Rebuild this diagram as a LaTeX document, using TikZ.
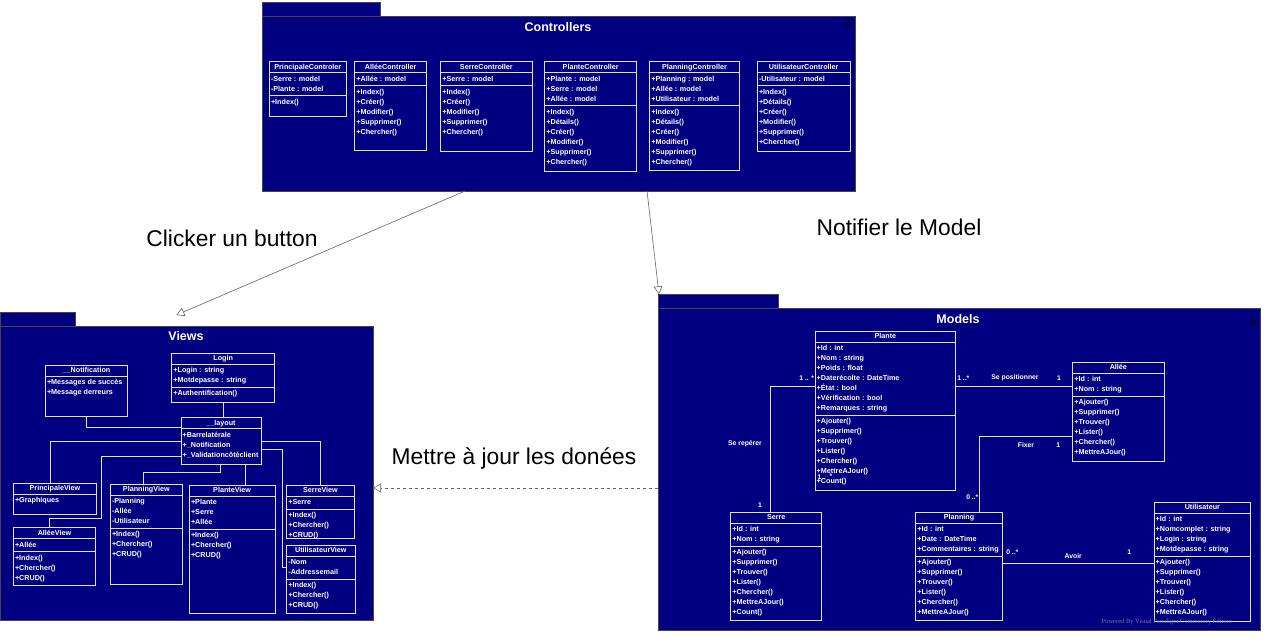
\documentclass[tikz,border=0pt]{standalone}
\usepackage{fontspec}
\setmainfont{Liberation Sans}
\newfontfamily\wmfont{Liberation Serif}
\usetikzlibrary{calc,arrows.meta}
\definecolor{navy}{RGB}{0,0,128}
\definecolor{clsborder}{RGB}{225,225,240}
\definecolor{pkgborder}{RGB}{70,70,70}
\definecolor{conn}{RGB}{100,100,100}
\definecolor{wmgray}{RGB}{120,120,150}
\tikzset{
 pkg/.style={draw=pkgborder, fill=navy, line width=0.8pt, inner sep=0pt, outer sep=0pt, anchor=north west},
 clsbox/.style={draw=clsborder, line width=1pt, inner sep=0pt, outer sep=0pt, anchor=north west},
 clsline/.style={draw=clsborder, line width=1pt},
 clstitle/.style={text=white, font=\bfseries\fontsize{7.2}{8}\selectfont, inner sep=0pt, text height=5.2pt, text depth=1.5pt},
 clstext/.style={text=white, font=\bfseries\fontsize{7.2}{8}\selectfont, inner sep=0pt, anchor=west, text height=5.2pt, text depth=1.5pt},
 assoc/.style={draw=clsborder, line width=1pt},
 pkgtitle/.style={text=white, font=\bfseries\fontsize{12.5}{14}\selectfont, inner sep=0pt},
 biglabel/.style={text=black, font=\fontsize{22.8}{26}\selectfont, inner sep=0pt},
 mult/.style={text=white, font=\bfseries\fontsize{6.8}{8}\selectfont, inner sep=0pt},
 genarrow/.style={draw=conn, line width=0.6pt, -{Triangle[open, length=8pt, width=9pt]}},
 collapse/.style={draw=black, line width=0.6pt},
}
\newcommand{\umlclass}[9]{%
 \node[clsbox, minimum width=#4pt, minimum height=#5pt] (#1) at (#2,#3) {};
 \node[clstitle] (#1-t) at ($(#1.north)+(0,5.5)$) {#6};
 \draw[clsline] ($(#1.north west)+(0,11)$) -- ($(#1.north east)+(0,11)$);
 \foreach \itm [count=\i] in {#8} {\node[clstext] (#1-a\i) at ($(#1.north west)+(1.5,7.5+10*\i)$) {\itm};}
 \draw[clsline] ($(#1.north west)+(0,14+10*#7)$) -- ($(#1.north east)+(0,14+10*#7)$);
 \foreach \itm [count=\i] in {#9} {\node[clstext] (#1-o\i) at ($(#1.north west)+(1.5,10.5+10*#7+10*\i)$) {\itm};}
}
\newcommand{\umlclassA}[7]{%
 \node[clsbox, minimum width=#4pt, minimum height=#5pt] (#1) at (#2,#3) {};
 \node[clstitle] (#1-t) at ($(#1.north)+(0,5.5)$) {#6};
 \draw[clsline] ($(#1.north west)+(0,11)$) -- ($(#1.north east)+(0,11)$);
 \foreach \itm [count=\i] in {#7} {\node[clstext] (#1-a\i) at ($(#1.north west)+(1.5,7.5+10*\i)$) {\itm};}
}
\begin{document}
\begin{tikzpicture}[x=1pt,y=-1pt]
\useasboundingbox[fill=white] (0,0) rectangle (1274,643);

% ---------- packages ----------
\node[pkg, minimum width=118pt, minimum height=14pt] (ctrltab) at (262,2) {};
\node[pkg, minimum width=593pt, minimum height=175pt] (ctrl) at (262,16) {};
\node[pkgtitle] (ctrlt) at (558,27) {Controllers};
\draw[collapse] (845,26) -- (851,26) -- (848,20) -- cycle;

\node[pkg, minimum width=75pt, minimum height=14pt] (viewstab) at (0.4,312) {};
\node[pkg, minimum width=372.6pt, minimum height=294pt] (views) at (0.4,326) {};
\node[pkgtitle] (viewst) at (186,336.5) {Views};

\node[pkg, minimum width=120pt, minimum height=14pt] (modelstab) at (658.3,294.3) {};
\node[pkg, minimum width=601.7pt, minimum height=321.7pt] (models) at (658.3,308.3) {};
\node[pkgtitle] (modelst) at (958,319.5) {Models};
\draw[collapse] (1250,325) -- (1256,325) -- (1253,319) -- cycle;

% ---------- controllers ----------
\umlclass{pc}{269.3}{61.7}{77}{54.3}{PrincipaleControler}{2}{-Serre : model,-Plante : model}{+Index()}
\umlclass{ac}{354.7}{61.7}{72}{88.3}{AlléeController}{1}{+Allée : model}{+Index(),+Créer(),+Modifier(),+Supprimer(),+Chercher()}
\umlclass{sc}{440.7}{61.7}{91.3}{89.3}{SerreController}{1}{+Serre : model}{+Index(),+Créer(),+Modifier(),+Supprimer(),+Chercher()}
\umlclass{plc}{544.7}{61.7}{92}{109.3}{PlanteController}{3}{+Plante : model,+Serre : model,+Allée : model}{+Index(),+Détails(),+Créer(),+Modifier(),+Supprimer(),+Chercher()}
\umlclass{pnc}{649.7}{61.7}{89.6}{108.6}{PlanningController}{3}{+Planning : model,+Allée : model,+Utilisateur : model}{+Index(),+Détails(),+Créer(),+Modifier(),+Supprimer(),+Chercher()}
\umlclass{uc}{757.3}{61.7}{92.7}{89.3}{UtilisateurController}{1}{-Utilisateur : model}{+Index(),+Détails(),+Créer(),+Modifier(),+Supprimer(),+Chercher()}

% ---------- views ----------
\umlclassA{notif}{45.3}{365}{82.4}{51.7}{\_\_Notification}{+Messages de succès,+Message derreurs}
\umlclass{login}{171.7}{353.3}{103}{49.4}{Login}{2}{+Login : string,+Motdepasse : string}{+Authentification()}
\umlclassA{layout}{181}{417.7}{80}{46.6}{\_\_layout}{+Barrelatérale,+\_Notification,+\_Validationcôtéclient}
\umlclassA{pv}{13.3}{483.3}{83.4}{31}{PrincipaleView}{+Graphiques}
\umlclass{av}{13.3}{527.7}{82.4}{58}{AlléeView}{1}{+Allée}{+Index(),+Chercher(),+CRUD()}
\umlclass{pnv}{110.3}{484.3}{72}{99.7}{PlanningView}{3}{-Planning,-Allée,-Utilisateur}{+Index(),+Chercher(),+CRUD()}
\umlclass{plv}{189.3}{485}{85.7}{128.3}{PlanteView}{3}{+Plante,+Serre,+Allée}{+Index(),+Chercher(),+CRUD()}
\umlclass{sv}{286.7}{485}{67.6}{53.3}{SerreView}{1}{+Serre}{+Index(),+Chercher(),+CRUD()}
\umlclass{uv}{286.7}{545}{68.3}{68.3}{UtilisateurView}{2}{-Nom,-Addressemail}{+Index(),+Chercher(),+CRUD()}

\draw[assoc] (notif.south) |- ($(layout.north west)+(0,9.6)$);
\draw[assoc] (login.south) -- (login.south |- layout.north);
\draw[assoc] ($(layout.north west)+(0,23.3)$) -| ($(pv.north west)+(36.7,0)$);
\draw[assoc] ($(layout.north west)+(0,39)$) -| ($(av.north west)+(88,-9.4)$) -| ($(av.north west)+(36,0)$);
\draw[assoc] ($(layout.south west)+(39.7,0)$) |- ($(pnv.north west)+(33,-12)$) -- ($(pnv.north west)+(33,0)$);
\coordinate (lp) at ($(layout.south west)+(64.5,0)$);
\draw[assoc] (lp) -- (lp |- plv.north);
\draw[assoc] ($(layout.north east)+(0,23.3)$) -| ($(sv.north west)+(33.8,0)$);
\draw[assoc] ($(layout.north east)+(0,31.6)$) -| ($(uv.north west)+(-4.2,22.3)$) -- ($(uv.north west)+(0,22.3)$);

% ---------- models ----------
\umlclass{plante}{815}{331}{140.7}{159.3}{Plante}{7}{+Id : int,+Nom : string,+Poids : float,+Daterécolte : DateTime,+État : bool,+Vérification : bool,+Remarques : string}{+Ajouter(),+Supprimer(),+Trouver(),+Lister(),+Chercher(),+MettreAJour(),+Count()}
\umlclass{allee}{1072.7}{362.3}{91.3}{98.7}{Allée}{2}{+Id : int,+Nom : string}{+Ajouter(),+Supprimer(),+Trouver(),+Lister(),+Chercher(),+MettreAJour()}
\umlclass{serre}{730.7}{512.3}{91}{108.4}{Serre}{2}{+Id : int,+Nom : string}{+Ajouter(),+Supprimer(),+Trouver(),+Lister(),+Chercher(),+MettreAJour(),+Count()}
\umlclass{planning}{915.7}{512}{86.6}{108.7}{Planning}{3}{+Id : int,+Date : DateTime,+Commentaires : string}{+Ajouter(),+Supprimer(),+Trouver(),+Lister(),+Chercher(),+MettreAJour()}
\umlclass{util}{1154}{502.3}{96.7}{119.4}{Utilisateur}{4}{+Id : int,+Nomcomplet : string,+Login : string,+Motdepasse : string}{+Ajouter(),+Supprimer(),+Trouver(),+Lister(),+Chercher(),+MettreAJour()}

\draw[assoc] ($(plante.north west)+(0,55)$) -| ($(serre.north west)+(40,0)$);
\draw[assoc] ($(plante.north east)+(0,55)$) -- ($(allee.north west)+(0,23.7)$);
\draw[assoc] ($(planning.north west)+(64,0)$) |- ($(allee.north west)+(0,73.7)$);
\draw[assoc] ($(planning.north east)+(0,51.3)$) -- ($(util.north west)+(0,61)$);

\node[mult] (m1) at (806.7,378.3) {1 .. *};
\node[mult] (m2) at (745,444) {Se repérer};
\node[mult] (m3) at (760,505) {1};
\node[mult] (m4) at (963.3,377.7) {1 ..*};
\node[mult] (m5) at (1015,377.7) {Se positionner};
\node[mult] (m6) at (1059,377.7) {1};
\node[mult] (m7) at (972.3,497.3) {0 ..*};
\node[mult] (m8) at (1026,445.3) {Fixer};
\node[mult] (m9) at (1058.3,445.3) {1};
\node[mult] (m10) at (1012.3,551.7) {0 ..*};
\node[mult] (m11) at (1073.3,555.7) {Avoir};
\node[mult] (m12) at (1129.3,551.7) {1};
\node[mult] (m13) at (819.5,477) {1};
\node[mult] (m14) at (831,476) {*};

\node[text=wmgray, font=\wmfont\fontsize{6.5}{7}\selectfont, inner sep=0pt] (wm) at (1166.7,621.7) {Powered By Visual Paradigm Community Edition};

% ---------- package connectors ----------
\draw[genarrow] ($(ctrl.south west)+(203,0)$) -- ($(views.north west)+(176,-11)$);
\draw[genarrow] ($(ctrl.south west)+(385,0)$) -- ($(modelstab.north west)+(0.7,0)$);
\draw[genarrow, dashed] ($(models.north west)+(0,179.7)$) -- ($(views.north east)+(0,162)$);

\node[biglabel] (l1) at (232,238) {Clicker un button};
\node[biglabel] (l2) at (899,227) {Notifier le Model};
\node[biglabel] (l3) at (514,458) {Mettre à jour les donées};
\end{tikzpicture}
\end{document}
